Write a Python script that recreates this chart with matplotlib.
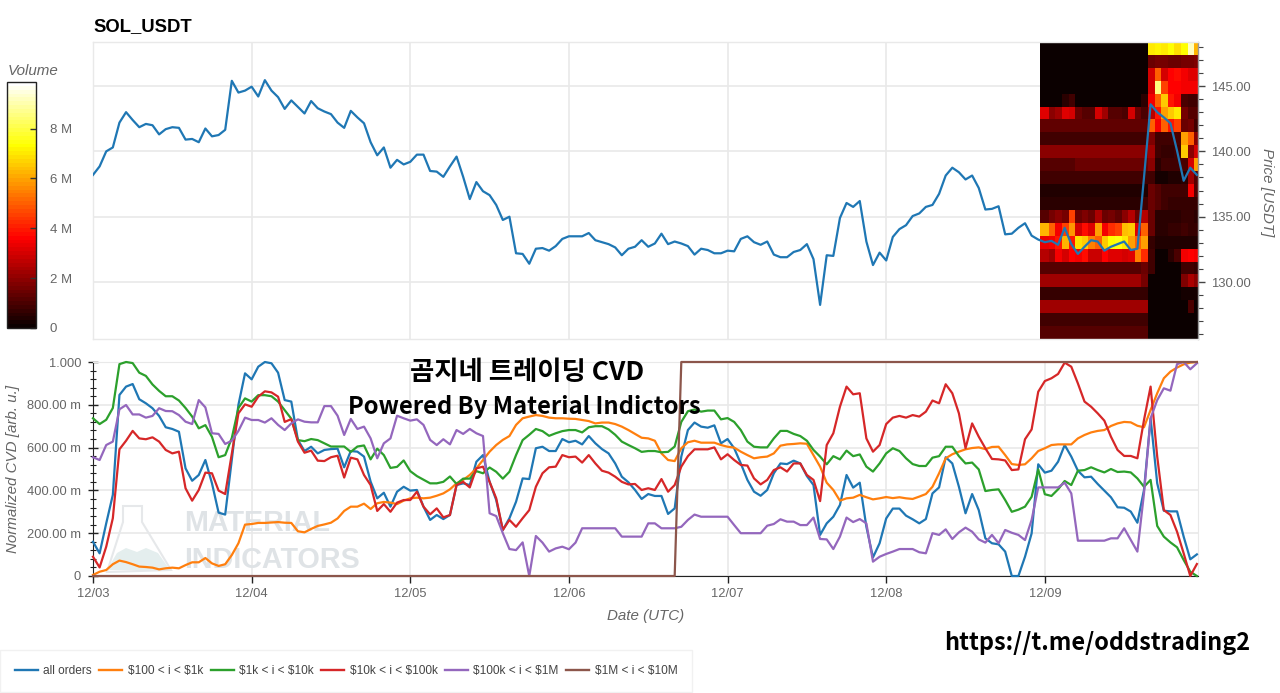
import numpy as np
import matplotlib as mpl

mpl.use("Agg")
import matplotlib.pyplot as plt
from matplotlib.patches import Polygon

plt.rcParams["font.family"] = ["Liberation Sans", "DejaVu Sans"]

# hourly samples, 12/03 00:00 onwards
price = [
    138.2, 138.85, 140.0, 140.3, 142.2, 143.0, 142.4, 141.85, 142.1, 142.0, 141.3, 141.7,
    141.85, 141.8, 140.9, 140.95, 140.7, 141.75, 141.15, 141.25, 141.65, 145.4, 144.5, 144.65,
    144.95, 144.2, 145.45, 144.65, 144.15, 143.25, 143.9, 143.4, 142.9, 143.85, 143.3, 143.05,
    142.85, 142.2, 141.8, 143.1, 142.6, 142.15, 140.7, 139.7, 140.3, 138.75, 139.35, 139.0,
    139.2, 139.75, 139.75, 138.5, 138.45, 138.05, 138.85, 139.6, 138.05, 136.35, 137.65, 136.95,
    136.65, 135.9, 134.75, 135.0, 132.2, 132.15, 131.4, 132.55, 132.6, 132.4, 132.75, 133.3,
    133.5, 133.5, 133.5, 133.75, 133.2, 133.05, 132.9, 132.65, 132.05, 132.55, 132.7, 133.2,
    132.7, 132.95, 133.7, 132.9, 133.1, 132.95, 132.75, 132.1, 132.55, 132.45, 132.2, 132.2,
    132.4, 132.35, 133.3, 133.5, 133.05, 132.85, 133.1, 132.1, 131.9, 131.9, 132.3, 132.45,
    132.9, 131.75, 128.25, 132.05, 132.0, 134.9, 136.05, 135.75, 136.2, 133.1, 131.3, 132.25,
    131.65, 133.45, 134.05, 134.35, 135.05, 135.25, 135.75, 135.9, 136.75, 138.15, 138.75, 138.4,
    137.85, 138.15, 137.2, 135.55, 135.6, 135.8, 133.65, 133.7, 134.15, 134.5, 133.55, 133.25,
    133.05, 133.15, 132.85, 134.15, 132.9, 132.15, 132.7, 133.2, 133.1, 132.4, 132.7, 132.9,
    133.1, 132.45, 132.55, 138.0, 143.6, 143.0, 142.6, 142.15, 140.05, 137.75, 138.75, 138.2,
]

all_orders = [
    .16, .106, .246, .379, .846, .885, .897, .826, .807, .784, .748, .695,
    .687, .674, .503, .445, .472, .542, .433, .296, .287, .542, .80, .947,
    .919, .978, 1, .994, .95, .822, .815, .636, .584, .604, .573, .589,
    .593, .595, .508, .584, .581, .558, .441, .363, .389, .324, .394, .417,
    .399, .402, .324, .262, .285, .266, .285, .425, .433, .425, .534, .565,
    .44, .355, .215, .27, .347, .456, .453, .597, .604, .584, .584, .64,
    .625, .632, .615, .654, .62, .593, .573, .526, .464, .438, .402, .36,
    .383, .374, .374, .29, .316, .558, .682, .717, .698, .693, .704, .62,
    .64, .597, .526, .449, .394, .375, .402, .48, .526, .523, .539, .526,
    .467, .425, .192, .246, .277, .332, .472, .413, .436, .23, .087, .153,
    .269, .315, .315, .282, .265, .246, .266, .386, .414, .555, .526, .417,
    .293, .383, .308, .176, .153, .148, .114, 0, 0, .09, .199, .522,
    .483, .492, .534, .612, .558, .492, .461, .464, .43, .399, .368, .321,
    .319, .301, .249, .402, .737, .433, .305, .302, .302, .184, .078, .101,
]
orders_100_1k = [
    .005, .02, .028, .055, .072, .065, .055, .044, .042, .039, .031, .036,
    .039, .036, .051, .064, .064, .084, .059, .047, .055, .098, .153, .24,
    .243, .248, .248, .25, .252, .249, .248, .209, .204, .22, .234, .241,
    .249, .269, .304, .324, .324, .338, .313, .34, .346, .343, .336, .352,
    .363, .366, .363, .366, .375, .386, .405, .433, .449, .472, .503, .542,
    .581, .612, .636, .654, .706, .737, .745, .752, .748, .74, .737, .737,
    .735, .734, .729, .724, .713, .717, .717, .71, .698, .682, .664, .646,
    .643, .632, .573, .542, .537, .597, .625, .632, .623, .623, .623, .612,
    .604, .6, .581, .565, .55, .555, .558, .573, .609, .615, .617, .62,
    .618, .565, .511, .436, .402, .352, .363, .366, .379, .368, .358, .363,
    .369, .364, .368, .363, .36, .371, .383, .417, .48, .55, .569, .581,
    .592, .598, .601, .593, .603, .604, .565, .523, .519, .522, .55, .584,
    .597, .612, .615, .615, .615, .643, .659, .671, .678, .682, .701, .713,
    .72, .718, .702, .695, .776, .854, .924, .955, .974, .989, .997, 1,
]
orders_1k_10k = [
    .737, .71, .73, .785, .99, 1, .995, .95, .935, .895, .865, .84,
    .84, .82, .785, .745, .69, .705, .65, .555, .565, .645, .785, .83,
    .815, .845, .845, .84, .815, .775, .735, .635, .63, .64, .635, .62,
    .605, .605, .605, .58, .605, .61, .545, .595, .565, .505, .51, .54,
    .49, .467, .45, .433, .433, .44, .465, .43, .455, .455, .49, .48,
    .507, .487, .455, .487, .565, .635, .66, .687, .677, .655, .667, .677,
    .682, .682, .671, .695, .70, .70, .685, .66, .628, .612, .597, .58,
    .584, .584, .578, .58, .605, .72, .77, .778, .768, .773, .773, .732,
    .738, .72, .682, .628, .604, .601, .601, .643, .678, .678, .664, .654,
    .632, .589, .558, .522, .56, .545, .586, .56, .568, .511, .488, .526,
    .573, .597, .584, .55, .523, .514, .514, .553, .56, .604, .604, .56,
    .526, .53, .498, .397, .402, .405, .355, .30, .31, .324, .37, .498,
    .382, .374, .405, .444, .425, .492, .495, .508, .495, .484, .5, .486,
    .488, .484, .456, .417, .449, .234, .184, .157, .134, .075, .02, 0,
]
orders_10k_100k = [
    .09, .04, .137, .27, .592, .632, .678, .643, .639, .648, .628, .589,
    .573, .581, .41, .352, .402, .483, .48, .399, .383, .573, .76, .802,
    .791, .838, .863, .858, .838, .72, .733, .628, .576, .586, .539, .537,
    .555, .562, .46, .553, .545, .472, .425, .304, .336, .30, .343, .355,
    .355, .394, .324, .288, .316, .274, .285, .425, .44, .414, .503, .511,
    .44, .363, .215, .262, .23, .27, .308, .417, .48, .508, .511, .565,
    .555, .558, .53, .565, .526, .492, .483, .464, .44, .428, .43, .402,
    .41, .402, .453, .394, .425, .511, .56, .592, .592, .592, .601, .545,
    .569, .542, .519, .516, .456, .428, .449, .495, .508, .488, .526, .526,
    .472, .449, .35, .612, .667, .791, .885, .849, .854, .643, .581, .612,
    .71, .74, .748, .74, .752, .745, .768, .82, .807, .896, .854, .76,
    .597, .713, .651, .597, .547, .545, .54, .495, .498, .639, .685, .861,
    .911, .924, .944, .997, .978, .90, .815, .791, .76, .726, .651, .589,
    .561, .561, .55, .729, .885, .558, .308, .285, .207, .106, 0, .056,
]
orders_100k_1m = [
    .555, .542, .612, .628, .779, .799, .755, .755, .74, .748, .784, .771,
    .77, .752, .721, .71, .822, .788, .667, .664, .617, .632, .678, .74,
    .729, .729, .717, .737, .706, .682, .713, .732, .721, .718, .718, .794,
    .794, .749, .659, .734, .687, .698, .643, .55, .62, .643, .749, .737,
    .726, .732, .706, .636, .612, .639, .615, .682, .664, .687, .667, .654,
    .293, .28, .20, .126, .121, .157, 0, .187, .156, .114, .129, .137,
    .125, .156, .223, .223, .223, .223, .223, .223, .184, .184, .184, .184,
    .246, .246, .223, .223, .223, .23, .262, .287, .277, .277, .277, .277,
    .277, .238, .20, .20, .20, .20, .235, .243, .265, .254, .254, .238,
    .238, .273, .173, .171, .126, .184, .273, .252, .266, .246, .067, .09,
    .103, .114, .126, .126, .126, .111, .106, .20, .192, .218, .173, .204,
    .226, .207, .171, .156, .192, .153, .215, .202, .192, .168, .262, .414,
    .414, .414, .414, .436, .386, .165, .165, .165, .165, .165, .176, .176,
    .223, .168, .114, .386, .737, .822, .877, .866, .99, 1, .966, .994,
]
orders_1m_10m = [0] * 89 + [1] * 79

series = [
    ("all orders", all_orders, "#1f77b4"),
    (r"\$100 < i < \$1k", orders_100_1k, "#ff7f0e"),
    (r"\$1k < i < \$10k", orders_1k_10k, "#2ca02c"),
    (r"\$10k < i < \$100k", orders_10k_100k, "#d62728"),
    (r"\$100k < i < \$1M", orders_100k_1m, "#9467bd"),
    (r"\$1M < i < \$10M", orders_1m_10m, "#8c564b"),
]

# volume per price level and hour, in millions, top row first
volume = [
    [0] * 16 + [7.0, 7.2, 7.0, 7.4, 6.8, 7.3, 9.2, 6.3],
    [0] * 16 + [1.4, 1.6, 1.6, 1.5, 1.5, 1.6, 1.6, 1.7],
    [0] * 16 + [3.0, 5.0, 3.0, 3.6, 3.8, 3.4, 3.2, 3.2],
    [0] * 16 + [3.0, 8.5, 4.5, 3.6, 3.7, 3.5, 3.5, 3.4],
    [.15, .15, .15, .5, .8, .15, .15, .15, .15, .15, .15, .15, .15, .15, .15, .6, 3.5, 5.0, 6.5, 4.0, 3.5, 1.0, .9, .9],
    [3.2, 2.0, 2.2, 3.2, 3.0, 1.4, 1.2, 1.2, 3.0, 2.2, 1.2, 1.1, 1.0, 3.0, 1.4, 1.0, 2.6, 4.0, 6.0, 6.5, 7.0, 1.6, 1.1, 1.1],
    [1.3] * 16 + [5.0, 3.5, 5.0, 4.0, 4.5, 1.5, 1.6, .9],
    [.8] * 16 + [1.8, .8, .9, .9, 1.0, 6.0, 5.0, 2.0],
    [2.0] * 16 + [2.2, .8, .7, .7, .9, 6.5, 2.0, 3.0],
    [1.2] * 5 + [1.5] * 11 + [2.0, .6, .8, .8, .9, 1.0, 3.0, 6.0],
    [.8] * 16 + [.9, .3, .3, .4, .4, .6, 2.2, 1.2],
    [.4] * 16 + [1.4, 1.1, .9, .8, .8, .9, 3.5, 1.1],
    [.6] * 15 + [.8, 1.4, 1.1, .8, .7, .7, .7, .7, .7],
    [1.2, 1.6, 2.0, 1.6, 4.5, 1.5, 1.7, 1.5, 2.4, 1.5, 1.6, 1.3, 2.0, 2.5, 1.5, 2.6, 1.5, .5, .5, .5, .6, .7, .7, .6],
    [6.2, 5.0, 3.5, 4.5, 5.8, 3.0, 3.8, 3.2, 6.0, 3.5, 4.2, 4.6, 6.4, 6.6, 3.2, 5.0, 1.5, .6, .6, .7, .7, .8, .7, .7],
    [3.3, 3.5, 4.0, 6.2, 4.0, 6.8, 6.5, 5.5, 5.0, 6.5, 7.3, 7.5, 7.0, 6.0, 5.0, 6.0, .7, .4, .4, .4, .4, .4, .4, .4],
    [2.5, 2.2, 3.4, 3.0, 3.6, 3.4, 3.8, 2.8, 2.8, 3.6, 3.2, 3.2, 3.0, 3.2, 5.5, 4.2, .8, .15, .15, .5, 1.0, 3.4, 3.6, 3.4],
    [1.1] * 15 + [1.5, .9, .05, .05, .1, .1, .8, .9, .7],
    [2.3] * 15 + [1.6, .1, .03, .05, .05, .1, 1.8, 2.4, 2.0],
    [.7] * 16 + [.05, .03, .03, .03, .03, .2, .2, .3],
    [2.3] * 16 + [.05, .02, .02, .02, .02, .03, 1.0, .15],
    [.9] * 16 + [.05, .02, .02, .02, .02, .02, .02, .02],
    [1.1] * 16 + [.05, .04, .04, .04, .04, .04, .04, .04],
]

day_labels = ["12/03", "12/04", "12/05", "12/06", "12/07", "12/08", "12/09"]
day_hours = [0, 24, 48, 72, 96, 120, 144]
price_ticks = [130, 135, 140, 145]
cvd_ticks = [0, .2, .4, .6, .8, 1.0]
cvd_labels = ["0", "200.00 m", "400.00 m", "600.00 m", "800.00 m", "1.000"]
vol_ticks = [0, 2, 4, 6, 8]
vol_labels = ["0", "2 M", "4 M", "6 M", "8 M"]

W, H = 1280, 693
GRID = "#e9e9e9"
TXT = "#666666"
AX = "#444444"


def box(x0, y0, x1, y1):
    # pixel box (y from top) to figure fractions
    return [x0 / W, 1 - y1 / H, (x1 - x0) / W, (y1 - y0) / H]


def pt(x, y):
    return x / W, 1 - y / H


fig = plt.figure(figsize=(W / 100, H / 100), dpi=100)
ax_p = fig.add_axes(box(93, 42, 1198, 339))
ax_c = fig.add_axes(box(93, 362, 1198, 576))
cax = fig.add_axes(box(7, 82, 36, 328))

xmax = 167.17
cmap = mpl.colormaps["hot"].resampled(64)
norm = mpl.colors.Normalize(0, 9.87)

# price panel
vol = np.array(volume)
plo, phi = 125.64, 148.37
xedges = np.r_[143.27, 144.6 + np.arange(24)]
yedges = np.linspace(phi, plo, vol.shape[0] + 1)
ax_p.pcolormesh(xedges, yedges, vol, cmap=cmap, norm=norm, zorder=1.8)
ax_p.plot(np.arange(len(price)), price, color="#1f77b4", lw=1.6, zorder=3, solid_joinstyle="round")
ax_p.set_xlim(0, xmax)
ax_p.set_ylim(plo, phi)
ax_p.set_xticks(day_hours)
ax_p.tick_params(axis="x", length=0, labelbottom=False)
ax_p.yaxis.tick_right()
ax_p.set_yticks(price_ticks)
ax_p.set_yticklabels(["%.2f" % p for p in price_ticks])
ax_p.set_yticks(np.arange(126, 149), minor=True)
ax_p.tick_params(axis="y", which="major", length=5, width=1, color=AX, labelcolor=TXT, labelsize=9.4, pad=4.5)
ax_p.tick_params(axis="y", which="minor", length=3.5, width=.8, color=AX)
ax_p.grid(True, color=GRID, lw=1.2)
ax_p.set_axisbelow(True)
for s in ax_p.spines.values():
    s.set_color(GRID)
    s.set_linewidth(1)
ax_p.spines["right"].set_color("#999999")
fig.text(*pt(1267, 192), "Price [USDT]", rotation=270, style="italic", color=TXT, fontsize=10.9, ha="center", va="center")
fig.text(*pt(93, 27), "SOL_USDT", fontweight="bold", fontsize=13.3, color="black", ha="left", va="center")

# cvd panel
for name, vals, col in series:
    ax_c.plot(np.arange(len(vals)), vals, color=col, lw=1.6, label=name, zorder=3, clip_on=False, solid_joinstyle="round")
ax_c.set_xlim(0, xmax)
ax_c.set_ylim(0, 1)
ax_c.set_xticks(day_hours)
ax_c.set_xticklabels(day_labels)
ax_c.set_yticks(cvd_ticks)
ax_c.set_yticklabels(cvd_labels)
ax_c.set_yticks(np.arange(0, 1.001, .04), minor=True)
ax_c.tick_params(axis="both", which="major", length=5, width=1, color="#222222", labelcolor=TXT, labelsize=9.3)
ax_c.tick_params(axis="y", which="major", direction="inout", length=7, pad=5)
ax_c.tick_params(axis="y", which="minor", direction="inout", length=4, width=.8, color="#222222")
ax_c.grid(True, color=GRID, lw=1.2)
ax_c.set_axisbelow(True)
for side in ["top", "right"]:
    ax_c.spines[side].set_color(GRID)
for side in ["left", "bottom"]:
    ax_c.spines[side].set_color("#222222")
fig.text(*pt(646, 616), "Date (UTC)", style="italic", color=TXT, fontsize=10.9, ha="center", va="center")
fig.text(*pt(13, 469), "Normalized CVD [arb. u.]", rotation=90, style="italic", color=TXT, fontsize=10.9, ha="center", va="center")

# watermark behind the cvd lines
wm = dict(fontweight="bold", color="#dfe3e6", fontsize=20.7, ha="left", va="center", zorder=1.6)
ax_c.text(*pt(184, 523), "MATERIAL", transform=fig.transFigure, **wm)
ax_c.text(*pt(184, 560), "INDICATORS", transform=fig.transFigure, **wm)
flask = [(123, 506), (142, 506), (142, 522), (171, 570), (107, 572), (123, 522)]
hills = [(107, 570), (117, 553), (126, 548), (137, 552), (146, 548), (158, 553), (170, 570)]
ax_c.add_patch(Polygon([pt(*p) for p in flask], closed=True, fill=False, ec="#e6e8ea", lw=1.5, transform=fig.transFigure, zorder=1.6))
ax_c.add_patch(Polygon([pt(*p) for p in hills], closed=True, fc="#e4eeee", ec="none", transform=fig.transFigure, zorder=1.6))

# volume colorbar
sm = mpl.cm.ScalarMappable(norm=norm, cmap=cmap)
cb = fig.colorbar(sm, cax=cax)
cb.set_ticks(vol_ticks)
cb.set_ticklabels(vol_labels)
cax.tick_params(direction="in", length=4, width=1, color="#333333", labelcolor=TXT, labelsize=9.5, pad=10)
cb.outline.set_edgecolor("#222222")
cb.outline.set_linewidth(1)
fig.text(*pt(8, 71), "Volume", style="italic", color=TXT, fontsize=10.9, ha="left", va="center")

# legend
leg = fig.legend(loc="lower left", bbox_to_anchor=(0, 1 / H), ncol=6, frameon=True, fancybox=False, edgecolor="#eeeeee",
                 fontsize=8.6, labelcolor="#444444", handlelength=1.92, handletextpad=.46, columnspacing=.62,
                 borderpad=1.25, borderaxespad=0)
leg.get_frame().set_linewidth(1)
for line in leg.get_lines():
    line.set_linewidth(1.7)

# overlays
ko = ["Noto Sans CJK KR", "DejaVu Sans"]
fig.text(*pt(527, 373), "곰지네 트레이딩 CVD", family=ko, fontweight="bold", fontsize=19, color="black", ha="center", va="center", zorder=5)
fig.text(*pt(524, 407), "Powered By Material Indictors", family=ko, fontweight="bold", fontsize=17.1, color="black", ha="center", va="center", zorder=5)
fig.text(*pt(1097, 643), "https://t.me/oddstrading2", family=ko, fontweight="bold", fontsize=16.9, color="black", ha="center", va="center", zorder=5)

fig.savefig("out.png", dpi=100)
